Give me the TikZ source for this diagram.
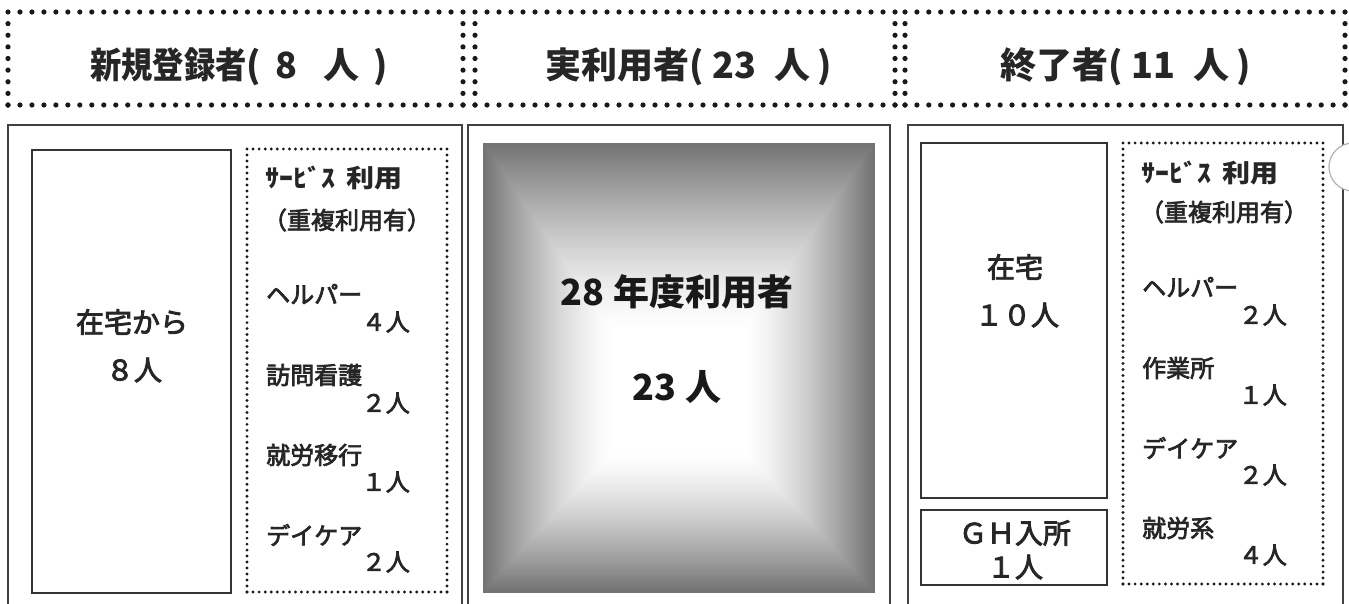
\documentclass[tikz,border=0pt]{standalone}
\usepackage{fontspec}
\usepackage{graphicx}
\newfontfamily\jp{Noto Sans CJK JP}
\newfontfamily\jpm{Noto Sans CJK JP}[FakeBold=3]
% dotted rectangle drawn with explicit dots: x1,y1,x2,y2,spacing,radius
\newcommand\dotrect[6]{%
  \pgfmathtruncatemacro\dnx{round((#3-#1)/#5)}%
  \pgfmathtruncatemacro\dny{round((#4-#2)/#5)}%
  \foreach \k in {0,...,\dnx}{%
    \fill[black!90] ({#1+(\k/\dnx)*(#3-#1)},#2) circle (#6pt);
    \fill[black!90] ({#1+(\k/\dnx)*(#3-#1)},#4) circle (#6pt);
  }%
  \foreach \k in {1,...,\dny}{%
    \fill[black!90] (#1,{#2+(\k/\dny)*(#4-#2)}) circle (#6pt);
    \fill[black!90] (#3,{#2+(\k/\dny)*(#4-#2)}) circle (#6pt);
  }%
}
\begin{document}
\begin{tikzpicture}[x=1pt,y=-1pt,
  panel/.style={draw=black!75, line width=2pt},
  box/.style={draw=black!80, line width=2pt},
  htxt/.style={inner sep=0pt, anchor=west, font=\jp\bfseries\fontsize{36}{40}\selectfont, text=black!85},
  ctxt/.style={inner sep=0pt, font=\jp\bfseries\fontsize{36}{40}\selectfont, text=black!90},
  mtxt/.style={inner sep=0pt, font=\jpm\fontsize{28}{30}\selectfont, text=black!85},
  stxt/.style={inner sep=0pt, font=\jpm\fontsize{24}{26}\selectfont, text=black!85},
  sbold/.style={inner sep=0pt, font=\jp\bfseries\fontsize{25}{27}\selectfont, text=black!85, anchor=west},
  item/.style={stxt, anchor=west},
  num/.style={stxt, anchor=east}]
\useasboundingbox (0,0) rectangle (1349,603);
\fill[white] (0,0) rectangle (1349,603);

% headers
\dotrect{8}{12}{463}{105}{12}{2.6}
\dotrect{475}{12}{895}{105}{12}{2.6}
\dotrect{905}{12}{1345}{105}{12}{2.6}
\node[htxt] (h1) at (90,67) {\scalebox{0.87}[1]{新規登録者}(\hspace{14pt}8\hspace{26pt}人\hspace{14pt})};
\node[htxt] (h2) at (545,67) {実利用者(\hspace{9pt}23\hspace{18pt}人\hspace{7pt})};
\node[htxt] (h3) at (1000,67) {終了者(\hspace{9pt}11\hspace{18pt}人\hspace{7pt})};

% panels
\draw[panel] (8,610) -- (8,125) -- (462,125) -- (462,610);
\draw[panel] (468,610) -- (468,125) -- (890,125) -- (890,610);
\draw[panel] (908,610) -- (908,125) -- (1343,125) -- (1343,610);

% left panel
\draw[box] (32,150) rectangle (231,593);
\dotrect{247}{149}{447}{592}{6}{1.6}
\node[mtxt] (l1) at (132,322) {在宅から};
\node[mtxt] (l2) at (134,370) {８人};
\node[sbold] (ls) at (265,178) {\scalebox{1.12}[1]{ｻｰﾋﾞｽ\hspace{10pt}利用}};
\node[stxt] (lp) at (347,220) {（重複利用有）};
\node[item] (la) at (266,294) {ヘルパー};
\node[num]  (lan) at (410,322) {４人};
\node[item] (lb) at (266,375) {訪問看護};
\node[num]  (lbn) at (410,403) {２人};
\node[item] (lc) at (266,455) {就労移行};
\node[num]  (lcn) at (410,482) {１人};
\node[item] (ld) at (266,535) {デイケア};
\node[num]  (ldn) at (410,562) {２人};

% middle gradient
\foreach \i in {0,...,80}{
  \pgfmathsetmacro{\t}{\i/80}
  \pgfmathsetmacro{\xa}{483+\t*(612-483)}
  \pgfmathsetmacro{\ya}{143+\t*(330-143)}
  \pgfmathsetmacro{\xb}{874-\t*(874-745)}
  \pgfmathsetmacro{\yb}{592-\t*(592-452)}
  \pgfmathsetmacro{\c}{55*(1-\t)^1.4}
  \fill[black!\c] (\xa,\ya) rectangle (\xb,\yb);
}
\draw[black!55, line width=1pt] (483,143) rectangle (874,592);
\node[ctxt] (m1) at (677,292) {28 年度利用者};
\node[ctxt] (m2) at (677,387) {23 人};

% right panel
\draw[box] (921,143) rectangle (1107,498);
\draw[box] (921,510) rectangle (1107,585);
\dotrect{1123}{143}{1323}{584}{6}{1.6}
\node[mtxt] (r1) at (1015,267) {在宅};
\node[mtxt] (r2) at (1017,315) {１０人};
\node[mtxt] (r3) at (1015,533) {ＧＨ入所};
\node[mtxt] (r4) at (1015,567) {１人};
\node[sbold] (rs) at (1141,173) {\scalebox{1.12}[1]{ｻｰﾋﾞｽ\hspace{10pt}利用}};
\node[stxt] (rp) at (1224,212) {（重複利用有）};
\node[item] (ra) at (1142,287) {ヘルパー};
\node[num]  (ran) at (1287,315) {２人};
\node[item] (rb) at (1142,368) {作業所};
\node[num]  (rbn) at (1287,395) {１人};
\node[item] (rc) at (1142,448) {デイケア};
\node[num]  (rcn) at (1287,475) {２人};
\node[item] (rd) at (1142,528) {就労系};
\node[num]  (rdn) at (1287,555) {４人};

% partial circle at right edge
\draw[black!30, fill=white, line width=1.2pt] (1353,167) circle (24pt);
\end{tikzpicture}
\end{document}
